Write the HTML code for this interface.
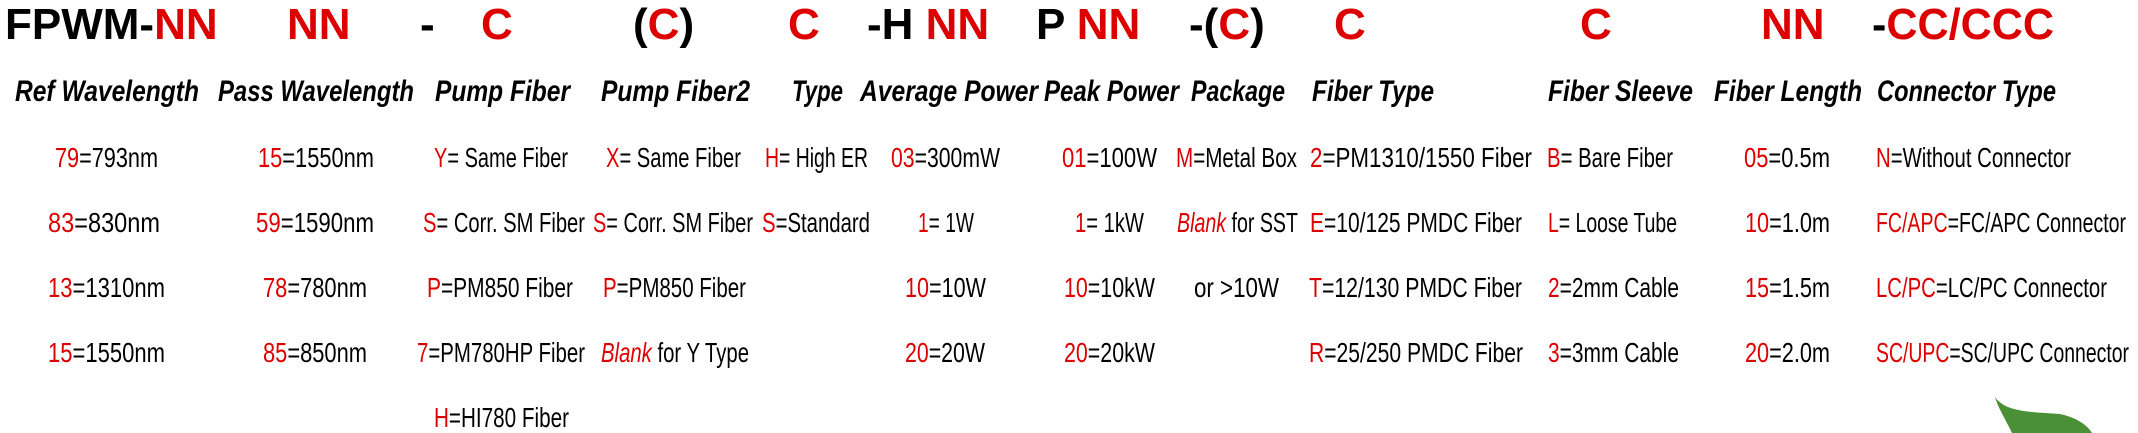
<!DOCTYPE html>
<html><head><meta charset="utf-8"><style>
html,body{margin:0;padding:0;background:#fff;}
svg{display:block;}
.h{font-family:"Liberation Sans",Arial,sans-serif;font-weight:bold;font-size:44px;fill:#000;}
.s{font-family:"Liberation Sans",Arial,sans-serif;font-weight:bold;font-style:italic;font-size:30px;fill:#000;}
.r{font-family:"Liberation Sans",Arial,sans-serif;font-size:28px;fill:#000;}
.red{fill:#dd0000;}
.i{font-style:italic;}
</style></head><body>
<svg width="2138" height="433" viewBox="0 0 2138 433" xmlns="http://www.w3.org/2000/svg">
<!-- header -->
<g class="h">
<text x="5" y="39">FPWM-<tspan class="red">NN</tspan></text>
<text x="287" y="39" class="red">NN</text>
<text x="420" y="39">-</text>
<text x="481" y="39" class="red">C</text>
<text x="633" y="39">(<tspan class="red">C</tspan>)</text>
<text x="788" y="39" class="red">C</text>
<text x="867" y="39">-H <tspan class="red">NN</tspan></text>
<text x="1036" y="39">P <tspan class="red">NN</tspan></text>
<text x="1189" y="39">-(<tspan class="red">C</tspan>)</text>
<text x="1334" y="39" class="red">C</text>
<text x="1580" y="39" class="red">C</text>
<text x="1761" y="39" class="red">NN</text>
<text x="1872" y="39" textLength="182" lengthAdjust="spacingAndGlyphs">-<tspan class="red">CC/CCC</tspan></text>
</g>
<!-- subheaders -->
<g class="s">
<text x="15" y="101" textLength="184" lengthAdjust="spacingAndGlyphs">Ref Wavelength</text>
<text x="218" y="101" textLength="196" lengthAdjust="spacingAndGlyphs">Pass Wavelength</text>
<text x="435" y="101" textLength="135" lengthAdjust="spacingAndGlyphs">Pump Fiber</text>
<text x="601" y="101" textLength="149" lengthAdjust="spacingAndGlyphs">Pump Fiber2</text>
<text x="792" y="101" textLength="51" lengthAdjust="spacingAndGlyphs">Type</text>
<text x="860" y="101" textLength="178" lengthAdjust="spacingAndGlyphs">Average Power</text>
<text x="1044" y="101" textLength="135" lengthAdjust="spacingAndGlyphs">Peak Power</text>
<text x="1191" y="101" textLength="94" lengthAdjust="spacingAndGlyphs">Package</text>
<text x="1312" y="101" textLength="122" lengthAdjust="spacingAndGlyphs">Fiber Type</text>
<text x="1548" y="101" textLength="145" lengthAdjust="spacingAndGlyphs">Fiber Sleeve</text>
<text x="1714" y="101" textLength="148" lengthAdjust="spacingAndGlyphs">Fiber Length</text>
<text x="1877" y="101" textLength="179" lengthAdjust="spacingAndGlyphs">Connector Type</text>
</g>
<!-- rows -->
<g class="r">
<!-- row1 -->
<text x="55" y="167" textLength="103" lengthAdjust="spacingAndGlyphs"><tspan class="red">79</tspan>=793nm</text>
<text x="258" y="167" textLength="116" lengthAdjust="spacingAndGlyphs"><tspan class="red">15</tspan>=1550nm</text>
<text x="434" y="167" textLength="134" lengthAdjust="spacingAndGlyphs"><tspan class="red">Y</tspan>= Same Fiber</text>
<text x="606" y="167" textLength="135" lengthAdjust="spacingAndGlyphs"><tspan class="red">X</tspan>= Same Fiber</text>
<text x="765" y="167" textLength="103" lengthAdjust="spacingAndGlyphs"><tspan class="red">H</tspan>= High ER</text>
<text x="891" y="167" textLength="109" lengthAdjust="spacingAndGlyphs"><tspan class="red">03</tspan>=300mW</text>
<text x="1062" y="167" textLength="95" lengthAdjust="spacingAndGlyphs"><tspan class="red">01</tspan>=100W</text>
<text x="1176" y="167" textLength="121" lengthAdjust="spacingAndGlyphs"><tspan class="red">M</tspan>=Metal Box</text>
<text x="1310" y="167" textLength="222" lengthAdjust="spacingAndGlyphs"><tspan class="red">2</tspan>=PM1310/1550 Fiber</text>
<text x="1547" y="167" textLength="126" lengthAdjust="spacingAndGlyphs"><tspan class="red">B</tspan>= Bare Fiber</text>
<text x="1744" y="167" textLength="86" lengthAdjust="spacingAndGlyphs"><tspan class="red">05</tspan>=0.5m</text>
<text x="1876" y="167" textLength="195" lengthAdjust="spacingAndGlyphs"><tspan class="red">N</tspan>=Without Connector</text>
<!-- row2 -->
<text x="48" y="232" textLength="112" lengthAdjust="spacingAndGlyphs"><tspan class="red">83</tspan>=830nm</text>
<text x="256" y="232" textLength="118" lengthAdjust="spacingAndGlyphs"><tspan class="red">59</tspan>=1590nm</text>
<text x="423" y="232" textLength="162" lengthAdjust="spacingAndGlyphs"><tspan class="red">S</tspan>= Corr. SM Fiber</text>
<text x="593" y="232" textLength="160" lengthAdjust="spacingAndGlyphs"><tspan class="red">S</tspan>= Corr. SM Fiber</text>
<text x="762" y="232" textLength="108" lengthAdjust="spacingAndGlyphs"><tspan class="red">S</tspan>=Standard</text>
<text x="918" y="232" textLength="56" lengthAdjust="spacingAndGlyphs"><tspan class="red">1</tspan>= 1W</text>
<text x="1075" y="232" textLength="69" lengthAdjust="spacingAndGlyphs"><tspan class="red">1</tspan>= 1kW</text>
<text x="1177" y="232" textLength="121" lengthAdjust="spacingAndGlyphs"><tspan class="red i">Blank</tspan> for SST</text>
<text x="1310" y="232" textLength="212" lengthAdjust="spacingAndGlyphs"><tspan class="red">E</tspan>=10/125 PMDC Fiber</text>
<text x="1548" y="232" textLength="129" lengthAdjust="spacingAndGlyphs"><tspan class="red">L</tspan>= Loose Tube</text>
<text x="1745" y="232" textLength="85" lengthAdjust="spacingAndGlyphs"><tspan class="red">10</tspan>=1.0m</text>
<text x="1876" y="232" textLength="250" lengthAdjust="spacingAndGlyphs"><tspan class="red">FC/APC</tspan>=FC/APC Connector</text>
<!-- row3 -->
<text x="48" y="297" textLength="117" lengthAdjust="spacingAndGlyphs"><tspan class="red">13</tspan>=1310nm</text>
<text x="263" y="297" textLength="104" lengthAdjust="spacingAndGlyphs"><tspan class="red">78</tspan>=780nm</text>
<text x="427" y="297" textLength="146" lengthAdjust="spacingAndGlyphs"><tspan class="red">P</tspan>=PM850 Fiber</text>
<text x="603" y="297" textLength="143" lengthAdjust="spacingAndGlyphs"><tspan class="red">P</tspan>=PM850 Fiber</text>
<text x="905" y="297" textLength="81" lengthAdjust="spacingAndGlyphs"><tspan class="red">10</tspan>=10W</text>
<text x="1064" y="297" textLength="91" lengthAdjust="spacingAndGlyphs"><tspan class="red">10</tspan>=10kW</text>
<text x="1194" y="297" textLength="85" lengthAdjust="spacingAndGlyphs">or &gt;10W</text>
<text x="1309" y="297" textLength="213" lengthAdjust="spacingAndGlyphs"><tspan class="red">T</tspan>=12/130 PMDC Fiber</text>
<text x="1548" y="297" textLength="131" lengthAdjust="spacingAndGlyphs"><tspan class="red">2</tspan>=2mm Cable</text>
<text x="1745" y="297" textLength="85" lengthAdjust="spacingAndGlyphs"><tspan class="red">15</tspan>=1.5m</text>
<text x="1876" y="297" textLength="231" lengthAdjust="spacingAndGlyphs"><tspan class="red">LC/PC</tspan>=LC/PC Connector</text>
<!-- row4 -->
<text x="48" y="362" textLength="117" lengthAdjust="spacingAndGlyphs"><tspan class="red">15</tspan>=1550nm</text>
<text x="263" y="362" textLength="104" lengthAdjust="spacingAndGlyphs"><tspan class="red">85</tspan>=850nm</text>
<text x="417" y="362" textLength="168" lengthAdjust="spacingAndGlyphs"><tspan class="red">7</tspan>=PM780HP Fiber</text>
<text x="601" y="362" textLength="148" lengthAdjust="spacingAndGlyphs"><tspan class="red i">Blank</tspan> for Y Type</text>
<text x="905" y="362" textLength="80" lengthAdjust="spacingAndGlyphs"><tspan class="red">20</tspan>=20W</text>
<text x="1064" y="362" textLength="91" lengthAdjust="spacingAndGlyphs"><tspan class="red">20</tspan>=20kW</text>
<text x="1309" y="362" textLength="214" lengthAdjust="spacingAndGlyphs"><tspan class="red">R</tspan>=25/250 PMDC Fiber</text>
<text x="1548" y="362" textLength="131" lengthAdjust="spacingAndGlyphs"><tspan class="red">3</tspan>=3mm Cable</text>
<text x="1745" y="362" textLength="85" lengthAdjust="spacingAndGlyphs"><tspan class="red">20</tspan>=2.0m</text>
<text x="1876" y="362" textLength="253" lengthAdjust="spacingAndGlyphs"><tspan class="red">SC/UPC</tspan>=SC/UPC Connector</text>
<!-- row5 -->
<text x="434" y="427" textLength="135" lengthAdjust="spacingAndGlyphs"><tspan class="red">H</tspan>=HI780 Fiber</text>
</g>
<!-- leaf -->
<path d="M1995,397 C2005,412 2030,412 2060,414 C2078,418 2088,426 2092,433 L2012,433 C2006,420 1998,408 1995,397 Z" fill="#4a9036"/>
</svg>
</body></html>
